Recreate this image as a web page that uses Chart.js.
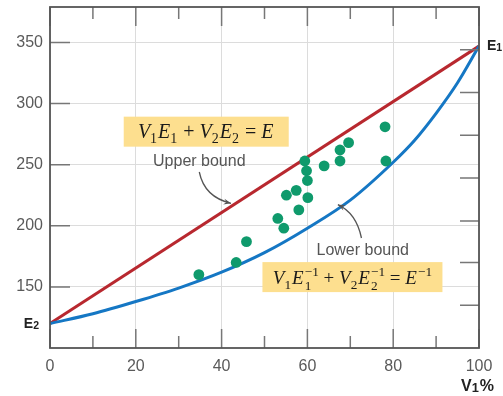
<!DOCTYPE html>
<html><head><meta charset="utf-8">
<script src="https://cdn.jsdelivr.net/npm/chart.js@4"></script>
<style>html,body{margin:0;padding:0;background:#fff}#wrap{width:503px;height:396px}</style>
</head><body><div id="wrap"><canvas id="c" width="503" height="396"></canvas></div>
<script>
// ---- data ----
const xTicks = [0, 20, 40, 60, 80, 100];
const minorXTicks = [10, 30, 50, 70, 90];
const yTicks = [150, 200, 250, 300, 350];
const rightAxisTicks = [344, 309, 274, 239, 204, 170, 135];
const upperX = [0, 100];
const upperY = [120, 347];
const lowerX = [0, 10, 20, 30, 40, 50, 60, 70, 80, 85, 90, 95, 100];
const lowerY = [120, 128, 138, 149, 162, 178, 198, 221, 252, 270, 292, 317, 347];
const sampleX = [34.7, 43.4, 45.8, 53.1, 54.5, 55.1, 57.4, 58.0, 59.4, 59.8, 60.0, 60.1, 63.9, 67.6, 67.6, 69.6, 78.1, 78.3];
const sampleY = [160, 170, 187, 206, 198, 225, 229, 213, 253, 245, 237, 223, 249, 262, 253, 268, 281, 253];
const labelE1 = 'E', subE1 = '1';
const labelE2 = 'E', subE2 = '2';
const axisTitle = ['V', '1', '%'];
const upperText = 'Upper bound';
const lowerText = 'Lower bound';

const pts = (xs, ys) => xs.map((x, i) => ({x, y: ys[i]}));

const SERIF = '"Liberation Serif", "DejaVu Serif", serif';
const SANS = '"Liberation Sans", Arial, sans-serif';

const formulaUpper = [
  {t:'V', it:1}, {t:'1', pos:'sub'}, {t:'E', it:1}, {t:'1', pos:'sub'},
  {t:' + '}, {t:'V', it:1}, {t:'2', pos:'sub'}, {t:'E', it:1}, {t:'2', pos:'sub'},
  {t:' = '}, {t:'E', it:1}
];
const formulaLower = [
  {t:'V', it:1}, {t:'1', pos:'sub'}, {t:'E', it:1}, {pos:'subsup', sub:'1', sup:'\u22121'},
  {t:' + '}, {t:'V', it:1}, {t:'2', pos:'sub'}, {t:'E', it:1}, {pos:'subsup', sub:'2', sup:'\u22121'},
  {t:' = '}, {t:'E', it:1}, {t:'\u22121', pos:'sup'}
];

function fontOf(p, sz, fam) {
  return (p.it ? 'italic ' : '') + (p.b ? 'bold ' : '') + sz + 'px ' + fam;
}
function drawRich(ctx, parts, cx, cy, size, fam, color, align, subScale, subDrop) {
  const ss = size * (subScale || 0.7);
  const sd = subDrop === undefined ? 0.25 : subDrop;
  const widths = parts.map(p => {
    if (p.pos === 'subsup') {
      ctx.font = fontOf(p, ss, fam);
      return Math.max(ctx.measureText(p.sub).width, ctx.measureText(p.sup).width) + 1;
    }
    ctx.font = fontOf(p, p.pos ? ss : size, fam);
    return ctx.measureText(p.t).width + (p.pos ? 1 : 0);
  });
  const total = widths.reduce((a, b) => a + b, 0);
  let x = align === 'left' ? cx : align === 'right' ? cx - total : cx - total / 2;
  const base = cy + size * 0.33;
  ctx.fillStyle = color;
  ctx.textAlign = 'left';
  ctx.textBaseline = 'alphabetic';
  parts.forEach((p, i) => {
    if (p.pos === 'subsup') {
      ctx.font = fontOf(p, ss, fam);
      ctx.fillText(p.sub, x + 1, base + size * 0.28);
      ctx.fillText(p.sup, x + 1, base - size * 0.42);
    } else if (p.pos === 'sub') {
      ctx.font = fontOf(p, ss, fam);
      ctx.fillText(p.t, x, base + size * sd);
    } else if (p.pos === 'sup') {
      ctx.font = fontOf(p, ss, fam);
      ctx.fillText(p.t, x + 1, base - size * 0.42);
    } else {
      ctx.font = fontOf(p, size, fam);
      ctx.fillText(p.t, x, base);
    }
    x += widths[i];
  });
}

function arrow(ctx, p0, c, p1) {
  ctx.save();
  ctx.strokeStyle = '#555';
  ctx.fillStyle = '#555';
  ctx.lineWidth = 1.3;
  ctx.beginPath();
  ctx.moveTo(p0[0], p0[1]);
  ctx.quadraticCurveTo(c[0], c[1], p1[0], p1[1]);
  ctx.stroke();
  const ang = Math.atan2(p1[1] - c[1], p1[0] - c[0]);
  const L = 8, W = 0.38;
  ctx.beginPath();
  ctx.moveTo(p1[0], p1[1]);
  ctx.lineTo(p1[0] - L * Math.cos(ang - W), p1[1] - L * Math.sin(ang - W));
  ctx.lineTo(p1[0] - L * 0.6 * Math.cos(ang), p1[1] - L * 0.6 * Math.sin(ang));
  ctx.lineTo(p1[0] - L * Math.cos(ang + W), p1[1] - L * Math.sin(ang + W));
  ctx.closePath();
  ctx.fill();
  ctx.restore();
}

const decor = {
  id: 'decor',
  beforeDatasetsDraw(chart) {
    const {ctx, scales: {x, y}} = chart;
    const P = (vx, vy) => [x.getPixelForValue(vx), y.getPixelForValue(vy)];
    ctx.save();
    ctx.fillStyle = '#fddf8f';
    let [bx, by] = P(36.3, 277);
    ctx.fillRect(bx - 82, by - 15, 165, 30);
    drawRich(ctx, formulaUpper, bx, by, 20, SERIF, '#1a1a1a');
    [bx, by] = P(70.5, 158);
    ctx.fillStyle = '#fddf8f';
    ctx.fillRect(bx - 90, by - 15, 180, 30);
    drawRich(ctx, formulaLower, bx, by + 1, 19, SERIF, '#1a1a1a');
    ctx.restore();
  },
  afterDatasetsDraw(chart) {
    const {ctx, chartArea: a, scales: {x, y}} = chart;
    const P = (vx, vy) => [x.getPixelForValue(vx), y.getPixelForValue(vy)];
    ctx.save();
    // inward ticks
    ctx.strokeStyle = '#777';
    ctx.lineWidth = 1.5;
    ctx.beginPath();
    xTicks.forEach(v => {
      const px = x.getPixelForValue(v);
      ctx.moveTo(px, a.top); ctx.lineTo(px, a.top + 19);
      ctx.moveTo(px, a.bottom); ctx.lineTo(px, a.bottom - 19);
    });
    minorXTicks.forEach(v => {
      const px = x.getPixelForValue(v);
      ctx.moveTo(px, a.top); ctx.lineTo(px, a.top + 12);
      ctx.moveTo(px, a.bottom); ctx.lineTo(px, a.bottom - 12);
    });
    yTicks.forEach(v => {
      const py = y.getPixelForValue(v);
      ctx.moveTo(a.left, py); ctx.lineTo(a.left + 20, py);
    });
    rightAxisTicks.forEach(v => {
      const py = y.getPixelForValue(v);
      ctx.moveTo(a.right, py); ctx.lineTo(a.right - 19, py);
    });
    ctx.stroke();
    // frame
    ctx.strokeStyle = '#555';
    ctx.lineWidth = 1.8;
    ctx.strokeRect(a.left, a.top, a.right - a.left, a.bottom - a.top);
    // labels
    ctx.fillStyle = '#555';
    ctx.font = '16px ' + SANS;
    ctx.textAlign = 'center';
    ctx.textBaseline = 'middle';
    let [tx, ty] = P(34.8, 252.2);
    ctx.fillText(upperText, tx, ty);
    [tx, ty] = P(72.9, 179.8);
    ctx.fillText(lowerText, tx, ty);
    arrow(ctx, P(34.8, 244), P(36.0, 223.4), P(42.2, 218.4));
    arrow(ctx, P(72.6, 190), P(71.4, 210.4), P(67.1, 217.3));
    // E1 / E2
    const e1 = P(100, upperY[1]);
    drawRich(ctx, [{t: labelE1, b: 1}, {t: subE1, b: 1, pos: 'sub'}], a.right + 8, e1[1] - 1, 14, SANS, '#222', 'left', 0.75, 0.06);
    const e2 = P(0, upperY[0]);
    drawRich(ctx, [{t: labelE2, b: 1}, {t: subE2, b: 1, pos: 'sub'}], a.left - 10, e2[1], 14, SANS, '#222', 'right', 0.75, 0.06);
    // axis title
    drawRich(ctx, [{t: axisTitle[0], b: 1}, {t: axisTitle[1], b: 1, pos: 'sub'}, {t: axisTitle[2], b: 1}], 494, 386, 16, SANS, '#222', 'right', 0.8, 0.05);
    ctx.restore();
  }
};

new Chart(document.getElementById('c'), {
  type: 'scatter',
  data: {
    datasets: [
      {data: pts(upperX, upperY), showLine: true, borderColor: '#b8282f', borderWidth: 3, pointRadius: 0, order: 2},
      {data: pts(lowerX, lowerY), showLine: true, borderColor: '#1577c4', borderWidth: 3, pointRadius: 0, cubicInterpolationMode: 'monotone', order: 1},
      {data: pts(sampleX, sampleY), backgroundColor: '#0f9a6c', borderWidth: 0, pointRadius: 5.4, order: 0}
    ]
  },
  options: {
    responsive: false,
    animation: false,
    devicePixelRatio: 1,
    layout: {padding: {top: 7, right: 24, left: 0, bottom: 0}},
    plugins: {legend: {display: false}, tooltip: {enabled: false}},
    scales: {
      x: {
        type: 'linear', min: 0, max: 100,
        afterBuildTicks: s => { s.ticks = xTicks.map(v => ({value: v})); },
        afterFit: s => { s.height = 48; s.paddingLeft = 0; s.paddingRight = 0; },
        grid: {color: '#dcdcdc', lineWidth: 1, drawTicks: false},
        border: {display: false},
        ticks: {color: '#5a5a5a', font: {size: 16, family: SANS}, padding: 9}
      },
      y: {
        type: 'linear', min: 100, max: 379,
        afterBuildTicks: s => { s.ticks = yTicks.map(v => ({value: v})); },
        afterFit: s => { s.width = 50; s.paddingTop = 0; s.paddingBottom = 0; },
        grid: {color: '#dcdcdc', lineWidth: 1, drawTicks: false},
        border: {display: false},
        ticks: {color: '#5a5a5a', font: {size: 16, family: SANS}, padding: 7}
      }
    }
  },
  plugins: [decor]
});
</script>
</body></html>
